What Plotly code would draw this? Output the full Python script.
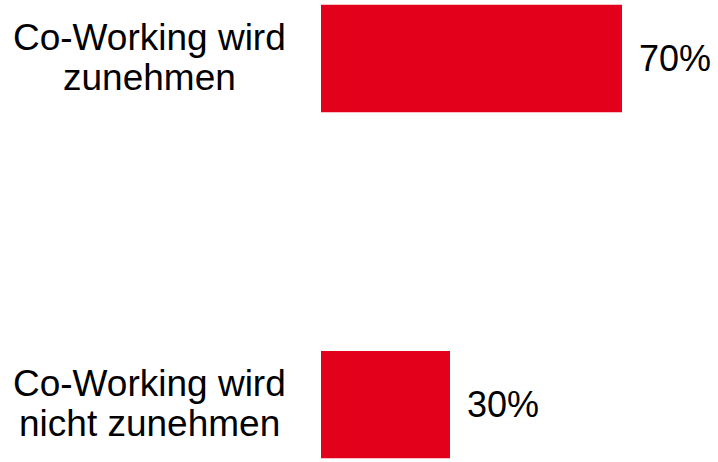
import plotly.graph_objects as go

# Data
categories = ["Co-Working wird zunehmen", "Co-Working wird nicht zunehmen"]
label_lines = [["Co-Working wird", "zunehmen"], ["Co-Working wird", "nicht zunehmen"]]
values = [70, 30]
value_labels = ["70%", "30%"]

BAR_COLOR = "#E2001A"
LABEL_FONT = dict(family="Liberation Sans, Arial, sans-serif", size=37, color="black")
VALUE_FONT = dict(family="Liberation Sans, Arial, sans-serif", size=36, color="black")

fig = go.Figure()
fig.add_trace(
    go.Bar(
        x=values,
        y=categories,
        orientation="h",
        width=0.31,
        marker=dict(color=BAR_COLOR, line=dict(width=0)),
        hoverinfo="skip",
    )
)

# category labels, centred, one annotation per line for tight line spacing
for cat, lines in zip(categories, label_lines):
    for i, line in enumerate(lines):
        fig.add_annotation(
            text=line,
            xref="paper",
            yref="y",
            x=-0.433,
            y=cat,
            xanchor="center",
            yanchor="middle",
            yshift=21 - 40 * i,
            showarrow=False,
            font=LABEL_FONT,
        )

# value labels right of the bars
for cat, v, lab in zip(categories, values, value_labels):
    fig.add_annotation(
        text=lab,
        xref="x",
        yref="y",
        x=v,
        y=cat,
        xanchor="left",
        yanchor="middle",
        xshift=15,
        showarrow=False,
        font=VALUE_FONT,
    )

fig.update_layout(
    width=718,
    height=462,
    margin=dict(l=321, r=0, t=0, b=0),
    plot_bgcolor="white",
    paper_bgcolor="white",
    showlegend=False,
)
fig.update_xaxes(range=[0, 92.33], visible=False)
fig.update_yaxes(
    type="category",
    range=[1.166, -0.169],
    showticklabels=False,
    showgrid=False,
    zeroline=False,
    showline=False,
)

fig.write_html(
    "out.html",
    config={"displayModeBar": False},
    post_script="document.body.style.margin='0';",
)
